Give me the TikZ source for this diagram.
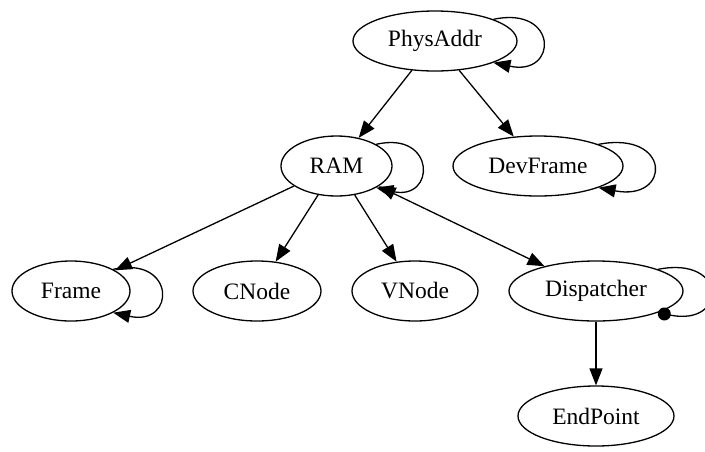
\documentclass[tikz,border=0pt]{standalone}
\usepackage{fontspec}
\setmainfont{Liberation Serif}
\usetikzlibrary{arrows.meta,shapes.geometric}
\tikzset{
  gtip/.tip={Triangle[length=17pt,width=13pt]},
  dtip/.tip={Circle[length=13pt]},
}
\begin{document}
\begin{tikzpicture}[x=1pt,y=-1pt,
  gnode/.style={draw, ellipse, line width=1.3pt, inner sep=0pt, minimum height=60pt,
                font=\fontsize{23.5}{27}\selectfont},
  edge/.style={line width=1.3pt, -gtip},
  bidir/.style={line width=1.3pt, gtip-gtip},
  dotedge/.style={line width=1.3pt, -dtip},
]
\useasboundingbox (0,0) rectangle (705,451);

\node[gnode, minimum width=164pt] (phys) at (435,41) {PhysAddr};
\node[gnode, minimum width=111pt] (ram) at (336.5,166) {RAM};
\node[gnode, minimum width=170pt] (dev) at (538,166) {DevFrame};
\node[gnode, minimum width=118pt] (frame) at (71,291) {Frame};
\node[gnode, minimum width=128pt] (cnode) at (257,291) {CNode};
\node[gnode, minimum width=126pt] (vnode) at (415,291) {VNode};
\node[gnode, minimum width=174pt] (disp) at (596,291) {Dispatcher};
\node[gnode, minimum width=156pt] (endp) at (596,416) {EndPoint};

% self loops
\draw[edge] (phys.north east) .. controls +(65,-14) and +(65,14) .. (phys.south east);
\draw[edge] (ram.north east) .. controls +(60,-14) and +(60,14) .. (ram.south east);
\draw[edge] (dev.north east) .. controls +(73,-14) and +(73,14) .. (dev.south east);
\draw[edge] (frame.north east) .. controls +(63,-14) and +(63,14) .. (frame.south east);
\draw[dotedge] (disp.north east) .. controls +(70,-14) and +(70,14) .. (disp.south east);

% edges
\draw[edge] (phys) -- (ram);
\draw[edge] (phys) -- (dev);
\draw[edge] (ram) -- (frame);
\draw[edge] (ram) -- (cnode);
\draw[edge] (ram) -- (vnode);
\draw[bidir] (ram) -- (disp);
\draw[edge] (disp) -- (endp);
\end{tikzpicture}
\end{document}
